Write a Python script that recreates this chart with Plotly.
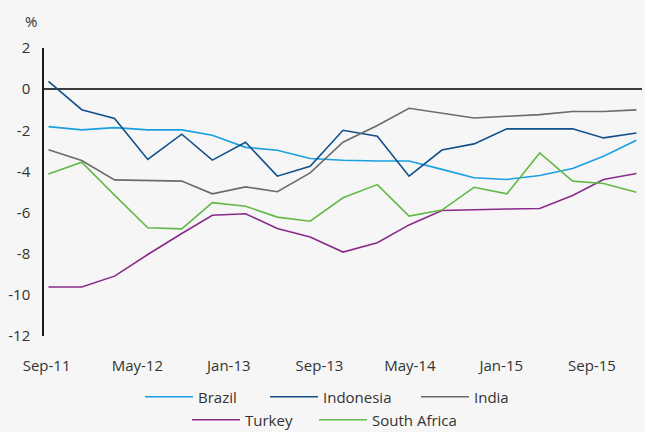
import plotly.graph_objects as go

dates = ["2011-09-06", "2011-12-04", "2012-03-01", "2012-05-29", "2012-08-28",
         "2012-11-18", "2013-02-15", "2013-05-11", "2013-08-07", "2013-11-03",
         "2014-02-03", "2014-04-29", "2014-07-26", "2014-10-20", "2015-01-16",
         "2015-04-14", "2015-07-11", "2015-10-02", "2015-12-29"]

brazil = [-1.82, -1.98, -1.87, -1.98, -1.98, -2.24, -2.83, -2.97, -3.37, -3.46,
          -3.49, -3.49, -3.90, -4.31, -4.39, -4.20, -3.86, -3.26, -2.48]
indonesia = [0.38, -1.00, -1.43, -3.42, -2.19, -3.45, -2.58, -4.23, -3.75, -2.00,
             -2.29, -4.23, -2.96, -2.66, -1.93, -1.93, -1.93, -2.37, -2.13]
india = [-2.95, -3.47, -4.41, -4.44, -4.47, -5.09, -4.75, -4.99, -4.07, -2.58,
         -1.77, -0.93, -1.15, -1.40, -1.32, -1.24, -1.09, -1.09, -1.01]
turkey = [-9.62, -9.62, -9.09, -8.04, -7.02, -6.13, -6.06, -6.77, -7.19, -7.92,
          -7.47, -6.60, -5.90, -5.85, -5.83, -5.80, -5.17, -4.39, -4.10]
south_africa = [-4.12, -3.55, -5.15, -6.74, -6.79, -5.52, -5.69, -6.22, -6.42, -5.28,
                -4.64, -6.17, -5.88, -4.77, -5.09, -3.10, -4.47, -4.59, -5.01]

tick_dates = ["2011-09-01", "2012-05-01", "2013-01-01", "2013-09-01",
              "2014-05-01", "2015-01-01", "2015-09-01"]
tick_labels = ["Sep-11", "May-12", "Jan-13", "Sep-13", "May-14", "Jan-15", "Sep-15"]

# name, values, colour, legend id, legend left (px), legend row centre (px)
series = [
    ("Brazil", brazil, "#1a9fe0", "legend", 140, 397),
    ("Indonesia", indonesia, "#12508a", "legend2", 265, 397),
    ("India", india, "#6b6b6b", "legend3", 416, 397),
    ("Turkey", turkey, "#8a2a8a", "legend4", 187, 420),
    ("South Africa", south_africa, "#62b947", "legend5", 314, 420),
]

W, H = 645, 432
fig = go.Figure()
legends = {}
for name, vals, color, lg, lx, ly in series:
    fig.add_trace(go.Scatter(x=dates, y=vals, mode="lines", name=name,
                             line=dict(color=color, width=1.6), legend=lg))
    legends[lg] = dict(orientation="h", xref="container", yref="container",
                       x=lx / W, xanchor="left", y=1 - ly / H, yanchor="middle",
                       bgcolor="rgba(0,0,0,0)", itemwidth=48,
                       font=dict(size=15, color="#333333"))

font_family = "Open Sans, Noto Sans, sans-serif"
bg = "#f6f6f6"
fig.update_layout(
    width=W, height=H,
    margin=dict(l=44, r=3, t=48, b=96, autoexpand=False),
    paper_bgcolor=bg, plot_bgcolor=bg,
    font=dict(family=font_family, size=15, color="#333333"),
    showlegend=True,
    xaxis=dict(type="date", range=["2011-08-25", "2016-01-13"],
               tickvals=tick_dates, ticktext=tick_labels, automargin=False,
               showgrid=False, zeroline=False, showline=False,
               ticks="", ticklabelstandoff=19, tickfont=dict(size=15, color="#333333")),
    yaxis=dict(range=[-12, 2], tickvals=[2, 0, -2, -4, -6, -8, -10, -12],
               ticktext=["2", "0", "-2", "-4", "-6", "-8", "-10", "-12"], automargin=False,
               showgrid=False, zeroline=True, zerolinecolor="#3c3c3c", zerolinewidth=1.6,
               showline=True, linecolor="#1a1a1a", linewidth=1.5,
               ticks="", ticklabelstandoff=9, tickfont=dict(size=15, color="#333333")),
    annotations=[dict(text="%", xref="paper", yref="paper",
                      x=(31 - 44) / 598, y=1 + (48 - 21) / 288,
                      xanchor="center", yanchor="middle", showarrow=False,
                      font=dict(size=15, color="#333333"))],
)
fig.update_layout(**legends)

fig.write_html("out.html", config={"displayModeBar": False},
               post_script="document.body.style.margin='0';"
                           "document.body.style.background='#f6f6f6';")
